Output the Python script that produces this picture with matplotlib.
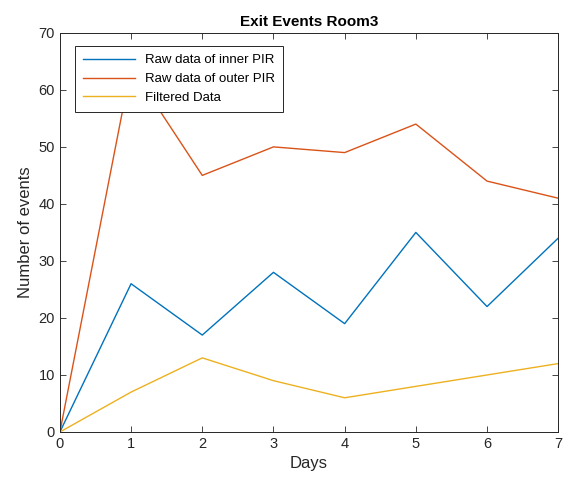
import matplotlib
matplotlib.use('Agg')
import matplotlib.pyplot as plt

plt.rcParams['font.family'] = ['Liberation Sans', 'DejaVu Sans']

days = [0, 1, 2, 3, 4, 5, 6, 7]
inner_pir = [0, 26, 17, 28, 19, 35, 22, 34]
outer_pir = [0, 64, 45, 50, 49, 54, 44, 41]
filtered = [0, 7, 13, 9, 6, 8, 10, 12]

axis_color = '#262626'

fig = plt.figure(figsize=(5.65, 4.83), dpi=100)
ax = fig.add_axes([0.106, 0.1056, 0.882, 0.8264])

ax.plot(days, inner_pir, color=(0, 0.447, 0.741), lw=1.0, label='Raw data of inner PIR')
ax.plot(days, outer_pir, color=(0.85, 0.325, 0.098), lw=1.0, label='Raw data of outer PIR')
ax.plot(days, filtered, color=(0.929, 0.694, 0.125), lw=1.0, label='Filtered Data')

ax.set_xlim(0, 7)
ax.set_ylim(0, 70)
ax.set_xticks(range(0, 8))
ax.set_yticks(range(0, 71, 10))
ax.tick_params(direction='in', top=True, right=True, labelsize=10.5,
               colors=axis_color, length=4, width=0.6)
for s in ax.spines.values():
    s.set_color(axis_color)
    s.set_linewidth(0.7)

ax.set_xlabel('Days', fontsize=12, color=axis_color)
ax.set_ylabel('Number of events', fontsize=12, color=axis_color)
ax.set_title('Exit Events Room3', fontsize=11, fontweight='bold', pad=5)

leg = ax.legend(loc='upper left', bbox_to_anchor=(0.018, 0.983), fontsize=9.5,
                frameon=True, fancybox=False, framealpha=1, edgecolor=axis_color,
                handlelength=3.9, borderpad=0.6, labelspacing=0.5)
leg.get_frame().set_linewidth(0.7)

fig.savefig('out.png', dpi=100)
